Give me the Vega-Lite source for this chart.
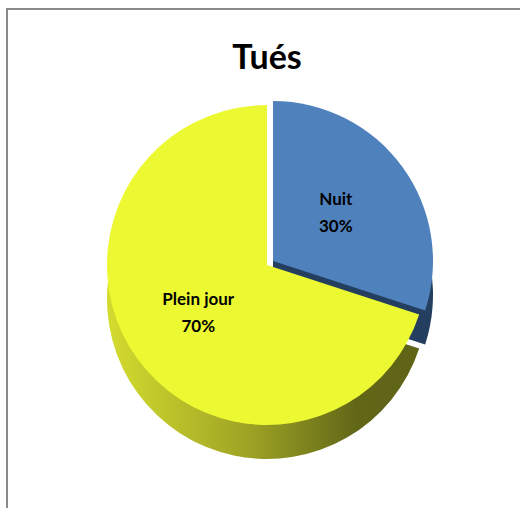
{
  "$schema": "https://vega.github.io/schema/vega-lite/v6.json",
  "autosize": "none",
  "padding": {"left": 7, "top": 9, "right": 0, "bottom": 0},
  "width": 520,
  "height": 512,
  "background": "white",
  "view": {"stroke": "#8a8a8a", "strokeWidth": 2},
  "config": {
    "view": {"stroke": "#8a8a8a", "strokeWidth": 2},
    "font": "Lato"
  },
  "title": {
    "text": "Tués",
    "font": "Lato",
    "fontSize": 34,
    "fontWeight": "bold",
    "color": "black",
    "anchor": "middle",
    "baseline": "alphabetic",
    "offset": -94
  },
  "data": {
    "values": [
      {"category": "Nuit", "value": 30},
      {"category": "Plein jour", "value": 70}
    ]
  },
  "layer": [
    {
      "transform": [
        {"stack": "value", "groupby": [], "as": ["v0", "v1"], "sort": [{"field": "category"}]},
        {"filter": "datum.category === 'Nuit'"}
      ],
      "mark": {"type": "arc", "radius": 160, "color": "#233E5F", "xOffset": 6, "yOffset": 30},
      "encoding": {
        "theta": {"field": "v0", "type": "quantitative", "scale": {"domain": [0, 100]}},
        "theta2": {"field": "v1"}
      }
    },
    {
      "transform": [
        {"stack": "value", "groupby": [], "as": ["v0", "v1"], "sort": [{"field": "category"}]},
        {"filter": "datum.category === 'Plein jour'"}
      ],
      "mark": {
        "type": "arc",
        "radius": 160,
        "yOffset": 34,
        "color": {
          "gradient": "linear",
          "x1": 0, "y1": 0, "x2": 1, "y2": 0,
          "stops": [
            {"offset": 0, "color": "#D4DC2F"},
            {"offset": 0.45, "color": "#9EA424"},
            {"offset": 0.8, "color": "#626718"},
            {"offset": 1, "color": "#5E6316"}
          ]
        }
      },
      "encoding": {
        "theta": {"field": "v0", "type": "quantitative", "scale": {"domain": [0, 100]}},
        "theta2": {"field": "v1"}
      }
    },
    {
      "transform": [
        {"stack": "value", "groupby": [], "as": ["v0", "v1"], "sort": [{"field": "category"}]},
        {"filter": "datum.category === 'Plein jour'"}
      ],
      "mark": {"type": "arc", "radius": 160, "color": "#ECF932"},
      "encoding": {
        "theta": {"field": "v0", "type": "quantitative", "scale": {"domain": [0, 100]}},
        "theta2": {"field": "v1"}
      }
    },
    {
      "transform": [
        {"stack": "value", "groupby": [], "as": ["v0", "v1"], "sort": [{"field": "category"}]},
        {"filter": "datum.category === 'Nuit'"}
      ],
      "mark": {"type": "arc", "radius": 160, "color": "#4F81BD", "xOffset": 6, "yOffset": -4},
      "encoding": {
        "theta": {"field": "v0", "type": "quantitative", "scale": {"domain": [0, 100]}},
        "theta2": {"field": "v1"}
      }
    },
    {
      "transform": [
        {"calculate": "datum.category + '\\n' + datum.value + '%'", "as": "label"}
      ],
      "mark": {
        "type": "text",
        "radius": 85,
        "dy": -15,
        "font": "Lato",
        "fontSize": 17,
        "fontWeight": "bold",
        "color": "black",
        "lineBreak": "\n",
        "lineHeight": 27,
        "align": "center",
        "baseline": "middle"
      },
      "encoding": {
        "theta": {"field": "value", "type": "quantitative", "stack": true, "sort": "ascending"},
        "order": {"field": "category"},
        "text": {"field": "label"}
      }
    }
  ]
}
